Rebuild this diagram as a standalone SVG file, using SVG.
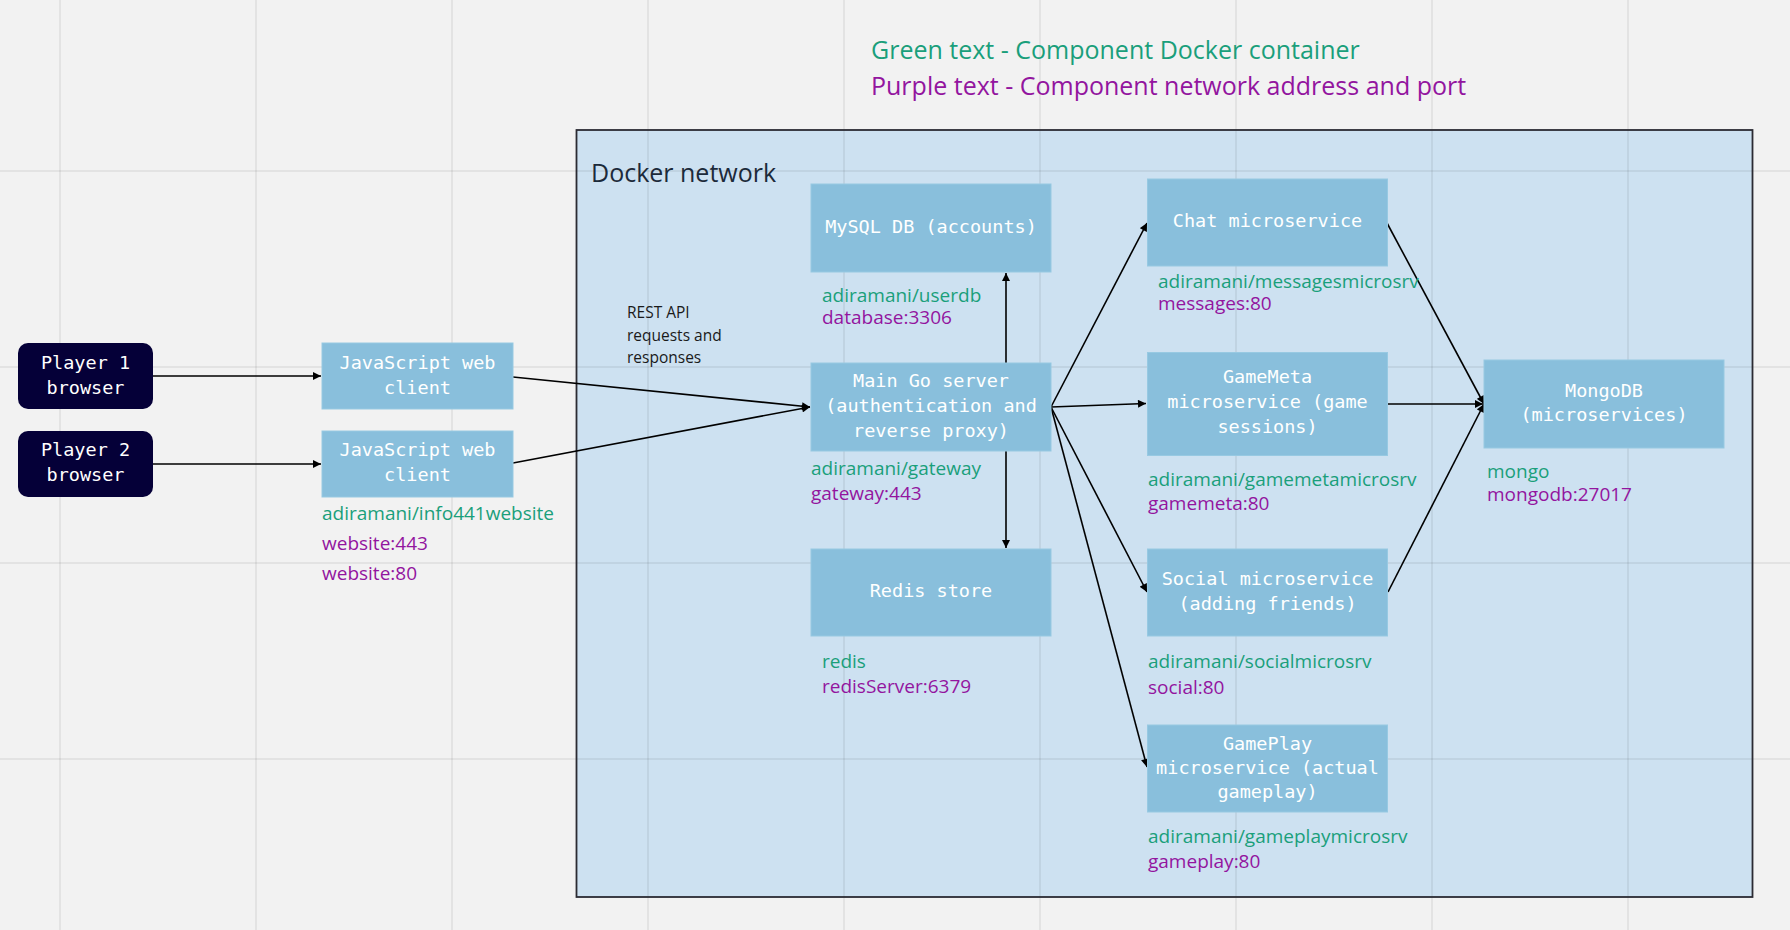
<svg xmlns="http://www.w3.org/2000/svg" width="1790" height="930" viewBox="0 0 1790 930">
<defs>
<style>
.bg{fill:#f2f2f2}
.grid line{stroke:#000;stroke-opacity:0.06;stroke-width:2}
.box{fill:#89bfdc;stroke:#97c9e2;stroke-width:1}
.dark{fill:#050038}
.nt{font-family:"DejaVu Sans Mono","Liberation Mono",monospace;font-size:18.5px;fill:#ffffff;text-anchor:middle}
.lbl{font-family:"Open Sans","Noto Sans",sans-serif;font-size:19px}
.g{fill:#1a9f7b}
.p{fill:#93159f}
.edge{stroke:#000;stroke-width:1.6;fill:none;marker-end:url(#ah)}
</style>
<marker id="ah" viewBox="0 0 10 10" refX="10" refY="5" markerWidth="9" markerHeight="8" markerUnits="userSpaceOnUse" orient="auto">
<path d="M0,0 L10,5 L0,10 z" fill="#000"/>
</marker>
</defs>
<rect class="bg" x="0" y="0" width="1790" height="930"/>
<g id="docker-network">
<rect x="576.5" y="130" width="1176" height="767" fill="#cde1f1"/>
</g>
<g class="grid">
<line x1="60" y1="0" x2="60" y2="930"/>
<line x1="256" y1="0" x2="256" y2="930"/>
<line x1="452" y1="0" x2="452" y2="930"/>
<line x1="648" y1="0" x2="648" y2="930"/>
<line x1="844" y1="0" x2="844" y2="930"/>
<line x1="1040" y1="0" x2="1040" y2="930"/>
<line x1="1236" y1="0" x2="1236" y2="930"/>
<line x1="1432" y1="0" x2="1432" y2="930"/>
<line x1="1628" y1="0" x2="1628" y2="930"/>
<line x1="0" y1="171" x2="1790" y2="171"/>
<line x1="0" y1="367" x2="1790" y2="367"/>
<line x1="0" y1="563" x2="1790" y2="563"/>
<line x1="0" y1="759" x2="1790" y2="759"/>
</g>
<g id="docker-network-frame">
<rect x="576.5" y="130" width="1176" height="767" fill="none" stroke="#2b2b33" stroke-width="1.8"/>
<text x="591" y="182" font-family="'Open Sans','Noto Sans',sans-serif" font-size="25" fill="#1c2a3a">Docker network</text>
</g>
<g id="legend" class="lbl" style="font-size:25px">
<text class="g" x="871" y="59">Green text - Component Docker container</text>
<text class="p" x="871" y="95">Purple text - Component network address and port</text>
</g>
<g id="connectors">
<line class="edge" x1="153" y1="376" x2="321" y2="376"/>
<line class="edge" x1="153" y1="464" x2="321" y2="464"/>
<line class="edge" x1="513" y1="377" x2="810" y2="407"/>
<line class="edge" x1="513" y1="463" x2="810" y2="407"/>
<line class="edge" x1="1006" y1="363" x2="1006" y2="273"/>
<line class="edge" x1="1006" y1="451" x2="1006" y2="548"/>
<line class="edge" x1="1051" y1="407" x2="1147" y2="223"/>
<line class="edge" x1="1051" y1="407" x2="1146" y2="403.5"/>
<line class="edge" x1="1051" y1="407" x2="1147" y2="592"/>
<line class="edge" x1="1051" y1="407" x2="1147" y2="767"/>
<line class="edge" x1="1387" y1="223" x2="1484" y2="404"/>
<line class="edge" x1="1387" y1="404" x2="1483" y2="404"/>
<line class="edge" x1="1388" y1="592" x2="1484" y2="404"/>
<text x="627" y="318" font-family="'Open Sans','Noto Sans',sans-serif" font-size="15.5" fill="#1a1a1a">REST API</text>
<text x="627" y="341" font-family="'Open Sans','Noto Sans',sans-serif" font-size="15.5" fill="#1a1a1a">requests and</text>
<text x="627" y="363" font-family="'Open Sans','Noto Sans',sans-serif" font-size="15.5" fill="#1a1a1a">responses</text>
</g>
<g id="player1">
<rect class="dark" x="18" y="343" width="135" height="66" rx="10"/>
<text class="nt" x="85.5" y="369">Player 1</text>
<text class="nt" x="85.5" y="394">browser</text>
</g>
<g id="player2">
<rect class="dark" x="18" y="431" width="135" height="66" rx="10"/>
<text class="nt" x="85.5" y="456">Player 2</text>
<text class="nt" x="85.5" y="481">browser</text>
</g>
<g id="jsclient1">
<rect class="box" x="322" y="343" width="191" height="66"/>
<text class="nt" x="417.5" y="369">JavaScript web</text>
<text class="nt" x="417.5" y="394">client</text>
</g>
<g id="jsclient2">
<rect class="box" x="322" y="431" width="191" height="66"/>
<text class="nt" x="417.5" y="456">JavaScript web</text>
<text class="nt" x="417.5" y="481">client</text>
<text class="lbl g" x="322" y="520">adiramani/info441website</text>
<text class="lbl p" x="322" y="550">website:443</text>
<text class="lbl p" x="322" y="580">website:80</text>
</g>
<g id="mysql">
<rect class="box" x="811" y="184" width="240" height="88"/>
<text class="nt" x="931" y="233">MySQL DB (accounts)</text>
<text class="lbl g" x="822" y="302">adiramani/userdb</text>
<text class="lbl p" x="822" y="324">database:3306</text>
</g>
<g id="gateway">
<rect class="box" x="811" y="363" width="240" height="88"/>
<text class="nt" x="931" y="387">Main Go server</text>
<text class="nt" x="931" y="412">(authentication and</text>
<text class="nt" x="931" y="437">reverse proxy)</text>
<text class="lbl g" x="811" y="475">adiramani/gateway</text>
<text class="lbl p" x="811" y="500">gateway:443</text>
</g>
<g id="redis">
<rect class="box" x="811" y="549" width="240" height="87"/>
<text class="nt" x="931" y="597">Redis store</text>
<text class="lbl g" x="822" y="668">redis</text>
<text class="lbl p" x="822" y="693">redisServer:6379</text>
</g>
<g id="chat">
<rect class="box" x="1147.5" y="179" width="240" height="87"/>
<text class="nt" x="1267.5" y="227">Chat microservice</text>
<text class="lbl g" x="1158" y="288">adiramani/messagesmicrosrv</text>
<text class="lbl p" x="1158" y="310">messages:80</text>
</g>
<g id="gamemeta">
<rect class="box" x="1147.5" y="352.5" width="240" height="103"/>
<text class="nt" x="1267.5" y="383">GameMeta</text>
<text class="nt" x="1267.5" y="408">microservice (game</text>
<text class="nt" x="1267.5" y="433">sessions)</text>
<text class="lbl g" x="1148" y="486">adiramani/gamemetamicrosrv</text>
<text class="lbl p" x="1148" y="510">gamemeta:80</text>
</g>
<g id="social">
<rect class="box" x="1147.5" y="549" width="240" height="87"/>
<text class="nt" x="1267.5" y="585">Social microservice</text>
<text class="nt" x="1267.5" y="610">(adding friends)</text>
<text class="lbl g" x="1148" y="668">adiramani/socialmicrosrv</text>
<text class="lbl p" x="1148" y="694">social:80</text>
</g>
<g id="gameplay">
<rect class="box" x="1147.5" y="725" width="240" height="87"/>
<text class="nt" x="1267.5" y="750">GamePlay</text>
<text class="nt" x="1267.5" y="774">microservice (actual</text>
<text class="nt" x="1267.5" y="798">gameplay)</text>
<text class="lbl g" x="1148" y="843">adiramani/gameplaymicrosrv</text>
<text class="lbl p" x="1148" y="868">gameplay:80</text>
</g>
<g id="mongodb">
<rect class="box" x="1484" y="360" width="240" height="88"/>
<text class="nt" x="1604" y="397">MongoDB</text>
<text class="nt" x="1604" y="421">(microservices)</text>
<text class="lbl g" x="1487" y="478">mongo</text>
<text class="lbl p" x="1487" y="501">mongodb:27017</text>
</g>
</svg>
